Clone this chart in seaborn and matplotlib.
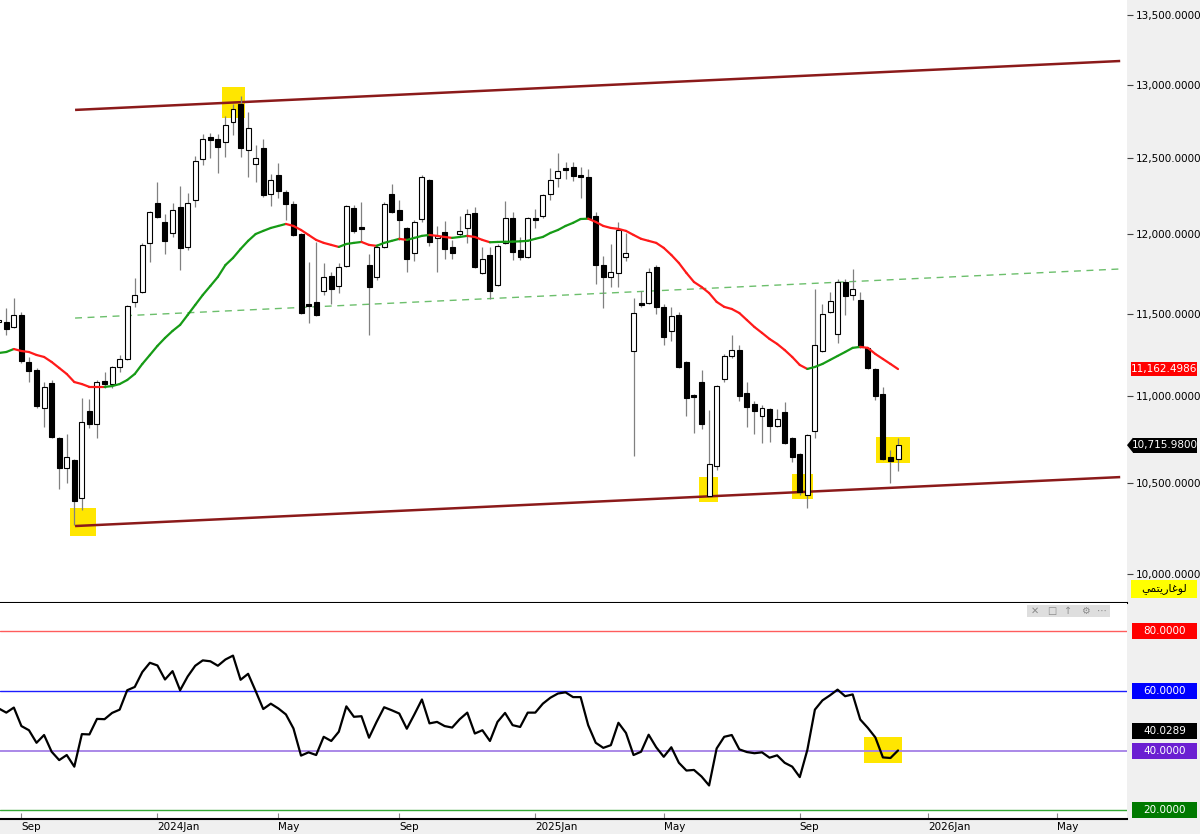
import numpy as np
import matplotlib
matplotlib.use("Agg")
import matplotlib.pyplot as plt
import seaborn as sns
from matplotlib.collections import LineCollection
from matplotlib.patches import Rectangle, Polygon
import matplotlib.ticker as mticker
import matplotlib.transforms as mtrans

# ---------------- data (weekly bars) ----------------
opens = [11448, 11448, 11417, 11491, 11205, 11157, 10932, 11079, 10756, 10585,
         10631, 10416, 10914, 10838, 11091, 11073, 11175, 11223, 11572, 11634,
         11944, 12202, 12079, 12008, 12176, 11918, 12222, 12494, 12642, 12629,
         12608, 12744, 12868, 12554, 12460, 12567, 12261, 12387, 12275, 12196,
         12001, 11559, 11572, 11640, 11734, 11671, 11797, 12170, 12047, 11803,
         11728, 11918, 12261, 12157, 12040, 11880, 12098, 12354, 11976, 12014,
         11918, 12001, 12040, 12137, 11753, 11867, 11678, 11944, 12105, 11899,
         11854, 12105, 12118, 12261, 12367, 12433, 12440, 12387, 12374, 12118,
         11803, 11728, 11753, 11854, 11271, 11566, 11566, 11791, 11541, 11393,
         11491, 11205, 11008, 11085, 10428, 10597, 11103, 11241, 11277, 11020,
         10955, 10885, 10926, 10826, 10908, 10756, 10665, 10433, 10797, 11271,
         11510, 11375, 11696, 11615, 11584, 11290, 11163, 11014, 10648, 10637]
highs = [11470, 11534, 11596, 11510, 11235, 11169, 11085, 11097, 10762, 10780,
         10637, 10990, 10984, 11097, 11145, 11181, 11247, 11553, 11722, 11944,
         12150, 12341, 12131, 12202, 12314, 12268, 12514, 12663, 12670, 12663,
         12786, 12868, 12923, 12813, 12588, 12629, 12394, 12467, 12288, 12215,
         12008, 11822, 11950, 11816, 11759, 11816, 12189, 12189, 12209, 11873,
         11937, 12209, 12327, 12222, 12047, 12092, 12387, 12361, 12053, 12085,
         11963, 12118, 12163, 12176, 11918, 11918, 11937, 12215, 12144, 11982,
         12111, 12163, 12261, 12433, 12534, 12474, 12474, 12440, 12427, 12144,
         11861, 11937, 12079, 12008, 11596, 11640, 11784, 11803, 11559, 11541,
         11510, 11211, 11014, 11157, 10920, 11067, 11253, 11368, 11308, 11085,
         10972, 10949, 10932, 10926, 10966, 10762, 10671, 10780, 11653, 11559,
         11634, 11715, 11715, 11778, 11634, 11296, 11169, 11056, 10688, 10756]
lows = [11440, 11368, 11411, 11199, 11085, 10932, 10820, 10756, 10467, 10500,
        10266, 10349, 10815, 10756, 11050, 11050, 11145, 11217, 11541, 11627,
        11822, 12105, 11873, 11982, 11772, 11899, 12176, 12453, 12500, 12400,
        12507, 12656, 12507, 12374, 12341, 12242, 12183, 12235, 12092, 11989,
        11497, 11442, 11485, 11615, 11559, 11627, 11791, 12008, 11950, 11368,
        11709, 11912, 12137, 11963, 11759, 11829, 12079, 11925, 11759, 11841,
        11841, 11989, 11944, 11784, 11746, 11590, 11671, 11937, 11835, 11835,
        11848, 12040, 12105, 12222, 12308, 12361, 12347, 12235, 12098, 11684,
        11535, 11665, 11665, 11829, 10654, 11541, 11559, 11497, 11308, 11332,
        11169, 10885, 10785, 10809, 10422, 10574, 11085, 11229, 10972, 10820,
        10780, 10728, 10734, 10820, 10722, 10620, 10433, 10360, 10756, 11265,
        11503, 11320, 11491, 11584, 11290, 11163, 10978, 10631, 10500, 10568]
closes = [11460, 11405, 11491, 11211, 11151, 10943, 11056, 10762, 10585, 10648,
          10399, 10849, 10838, 11085, 11073, 11175, 11223, 11547, 11615, 11931,
          12144, 12111, 11957, 12157, 11912, 12202, 12480, 12629, 12622, 12574,
          12724, 12834, 12567, 12703, 12500, 12255, 12354, 12281, 12196, 11995,
          11503, 11547, 11491, 11728, 11653, 11791, 12183, 12021, 12034, 11665,
          11918, 12196, 12144, 12092, 11841, 12079, 12374, 11950, 11989, 11905,
          11880, 12021, 12131, 11791, 11841, 11640, 11925, 12105, 11886, 11854,
          12105, 12092, 12255, 12354, 12413, 12420, 12380, 12374, 12105, 11803,
          11728, 11759, 12027, 11880, 11503, 11553, 11759, 11541, 11356, 11485,
          11175, 10990, 10996, 10838, 10608, 11061, 11241, 11277, 11002, 10937,
          10914, 10932, 10826, 10867, 10728, 10648, 10450, 10774, 11308, 11497,
          11578, 11696, 11609, 11653, 11296, 11169, 11002, 10637, 10625, 10715.98]
ma20 = [11259, 11265, 11283, 11271, 11265, 11247, 11235, 11205, 11169, 11133,
        11085, 11073, 11056, 11056, 11056, 11061, 11073, 11097, 11133, 11193,
        11247, 11302, 11350, 11393, 11430, 11491, 11553, 11615, 11671, 11728,
        11803, 11848, 11905, 11957, 12001, 12021, 12040, 12053, 12066, 12053,
        12027, 11995, 11963, 11944, 11931, 11918, 11937, 11944, 11950, 11931,
        11925, 11944, 11957, 11970, 11963, 11976, 11989, 11995, 11989, 11982,
        11976, 11982, 11989, 11982, 11963, 11948, 11950, 11951, 11952, 11954,
        11957, 11970, 11982, 12008, 12027, 12053, 12073, 12098, 12100, 12079,
        12053, 12040, 12034, 12021, 11995, 11970, 11957, 11944, 11912, 11867,
        11816, 11753, 11696, 11665, 11627, 11572, 11541, 11528, 11503, 11460,
        11417, 11381, 11344, 11314, 11277, 11235, 11187, 11163, 11175, 11193,
        11217, 11241, 11265, 11290, 11296, 11290, 11253, 11223, 11193, 11162.4986]
rsi = [54.1, 52.7, 54.4, 48.2, 46.8, 42.6, 45.2, 39.6, 36.8, 38.5,
       34.6, 45.5, 45.4, 50.6, 50.5, 52.6, 53.7, 60.2, 61.3, 66.3,
       69.4, 68.5, 63.8, 66.6, 60.2, 64.8, 68.4, 70.2, 69.9, 68.4,
       70.5, 71.8, 63.7, 65.7, 59.9, 53.9, 55.7, 54.1, 52.1, 47.4,
       38.3, 39.4, 38.5, 44.6, 43.2, 46.3, 54.8, 51.3, 51.5, 44.3,
       49.6, 54.5, 53.5, 52.4, 47.3, 52.1, 57.1, 49.1, 49.6, 48.2,
       47.7, 50.5, 52.7, 45.7, 46.8, 43.2, 49.6, 52.6, 48.5, 47.9,
       52.7, 52.7, 55.7, 57.7, 59.1, 59.5, 57.9, 57.9, 48.5, 42.6,
       40.9, 41.8, 49.3, 45.9, 38.5, 39.6, 45.3, 41.1, 37.9, 41.1,
       35.9, 33.3, 33.5, 31.3, 28.3, 40.7, 44.6, 45.2, 40.4, 39.5,
       39.1, 39.4, 37.6, 38.4, 35.9, 34.6, 31.1, 40.2, 53.7, 56.8,
       58.5, 60.4, 58.2, 58.8, 50.4, 47.6, 44.4, 37.7, 37.5, 40.0289]

price_ticks = [10000, 10500, 11000, 11500, 12000, 12500, 13000, 13500]
date_tick_bars = [3, 21, 37, 53, 71, 88, 106, 123, 140]
date_tick_labels = ["Sep", "2024Jan", "May", "Sep", "2025Jan", "May", "Sep", "2026Jan", "May"]

channel_x = [10.1, 148.4]
channel_top = [12827, 13168]
channel_bottom = [10261, 10534]
channel_mid = [11472, 11778]

rsi_levels = [80, 60, 40, 20]
rsi_level_line_colors = ["#ff5c5c", "#1c1cff", "#a47fe6", "#35a835"]
rsi_level_box_colors = ["#ff0000", "#0000ff", "#6b1fd2", "#007a00"]

last_close = 10715.98
last_ma = 11162.4986
last_rsi = 40.0289

# highlight boxes: (x0, x1, y0, y1) in bar / price units
highlight_boxes = [(29.5, 32.6, 12772, 12985),
                   (9.4, 12.9, 10206, 10360),
                   (92.7, 95.2, 10394, 10534),
                   (105.0, 107.7, 10411, 10551),
                   (116.1, 120.6, 10614, 10762)]
rsi_highlight = (114.5, 119.5, 35.9, 44.6)

assert len(opens) == len(highs) == len(lows) == len(closes) == len(ma20) == len(rsi) == 120

# ---------------- style ----------------
sns.set_theme(style="white")
plt.rcParams['font.family'] = ['DejaVu Sans']

W, H = 1200, 834
fig = plt.figure(figsize=(W / 100, H / 100), dpi=100, facecolor="#f0f0f0")
ax = fig.add_axes([0, 231 / H, 1127 / W, 603 / H])
axr = fig.add_axes([0, 15 / H, 1127 / W, 216 / H])
for a in (ax, axr):
    a.set_facecolor("white")

x = np.arange(len(opens))
o = np.array(opens, float)
h = np.array(highs, float)
l = np.array(lows, float)
c = np.array(closes, float)
up = c >= o

XMIN, XMAX = 0.167, 149.3

# ---------------- main (price) pane ----------------
ax.set_yscale("log")

for (x0, x1, y0, y1) in highlight_boxes:
    ax.add_patch(Rectangle((x0, y0), x1 - x0, y1 - y0, facecolor="#ffe600",
                           edgecolor="none", zorder=1))

ax.plot(channel_x, channel_top, color="#8b1a1a", lw=1.8, zorder=2, solid_capstyle="butt")
ax.plot(channel_x, channel_bottom, color="#8b1a1a", lw=1.8, zorder=2, solid_capstyle="butt")
ax.plot(channel_x, channel_mid, color="#6cbf6c", lw=1.0, ls=(0, (5, 4)), zorder=2)

ax.vlines(x, l, h, color="#808080", lw=0.9, zorder=3)
body_lo = np.minimum(o, c)
body_h = np.maximum(np.abs(c - o), 0.5)
ax.bar(x, body_h, bottom=body_lo, width=0.66,
       color=["white" if u else "black" for u in up],
       edgecolor="black", linewidth=0.8, zorder=4)

ma = np.array(ma20, float)
pts = np.column_stack([x, ma])
segs, cols = [], []
prev = "#169b16"
for k in range(1, len(ma)):
    if ma[k] > ma[k - 1]:
        prev = "#169b16"
    elif ma[k] < ma[k - 1]:
        prev = "#ff1a1a"
    segs.append(pts[k - 1:k + 1])
    cols.append(prev)
ax.add_collection(LineCollection(segs, colors=cols, linewidths=1.6, zorder=5,
                                 capstyle="round", joinstyle="round"))

ax.set_xlim(XMIN, XMAX)
ax.set_ylim(9846, 13606)
ax.yaxis.tick_right()
ax.yaxis.set_major_locator(mticker.FixedLocator(price_ticks))
ax.yaxis.set_minor_locator(mticker.NullLocator())
ax.yaxis.set_major_formatter(mticker.FuncFormatter(lambda v, p: f"{v:,.4f}"))
ax.tick_params(axis="y", which="major", direction="out", length=4, width=0.8,
               color="#444444", labelcolor="black", labelsize=7.5, pad=2,
               right=True, left=False, labelright=True, labelleft=False)
ax.set_xticks([])
for s in ("top", "left", "right"):
    ax.spines[s].set_visible(False)
ax.spines["bottom"].set_color("black")
ax.spines["bottom"].set_linewidth(1.5)
ax.set_ylabel("")

# ---------------- RSI pane ----------------
axr.add_patch(Rectangle((rsi_highlight[0], rsi_highlight[2]),
                        rsi_highlight[1] - rsi_highlight[0],
                        rsi_highlight[3] - rsi_highlight[2],
                        facecolor="#ffe600", edgecolor="none", zorder=1))
for lev, col in zip(rsi_levels, rsi_level_line_colors):
    axr.axhline(lev, color=col, lw=1.3 if lev == 40 else 1.0, zorder=2)
sns.lineplot(x=x, y=rsi, ax=axr, color="black", linewidth=1.6, zorder=4)
axr.set_xlim(XMIN, XMAX)
axr.set_ylim(17.07, 89.42)
axr.set_yticks([])
axr.set_xlabel("")
axr.set_ylabel("")
axr.set_xticks(date_tick_bars)
axr.set_xticklabels(date_tick_labels)
offset = mtrans.ScaledTranslation(1.5 / 72, 0, fig.dpi_scale_trans)
for lbl in axr.get_xticklabels():
    lbl.set_horizontalalignment("left")
    lbl.set_transform(lbl.get_transform() + offset)
axr.tick_params(axis="x", direction="in", length=4, width=0.8, color="#888888",
                labelsize=7.5, labelcolor="black", pad=2, bottom=True)
for s in ("top", "left", "right"):
    axr.spines[s].set_visible(False)
axr.spines["bottom"].set_color("black")
axr.spines["bottom"].set_linewidth(1.5)


# ---------------- right-side value labels ----------------
def disp_y(axis, val):
    return axis.transData.transform((XMIN, val))[1]


def value_label(ypx, text, fc, x0=1132, x1=1197, hh=15, tip=False, tc="white"):
    fig.add_artist(Rectangle((x0 / W, (ypx - hh / 2) / H), (x1 - x0) / W, hh / H,
                             transform=fig.transFigure, facecolor=fc,
                             edgecolor="none", zorder=10))
    if tip:
        fig.add_artist(Polygon([((x0 - 6) / W, ypx / H), (x0 / W, (ypx + hh / 2) / H),
                                (x0 / W, (ypx - hh / 2) / H)], closed=True,
                               transform=fig.transFigure, facecolor=fc,
                               edgecolor="none", zorder=10))
    fig.text((x0 + x1) / 2 / W, ypx / H, text, color=tc, ha="center", va="center",
             fontsize=7.5, zorder=11)


value_label(disp_y(ax, last_ma), f"{last_ma:,.4f}", "#ff0000", x0=1131, hh=14)
value_label(disp_y(ax, last_close), f"{last_close:,.4f}", "#000000", x0=1133, tip=True)

for lev, col in zip(rsi_levels, rsi_level_box_colors):
    value_label(disp_y(axr, lev), f"{lev:.4f}", col, hh=16)
value_label(disp_y(axr, 40) + 20, f"{last_rsi:.4f}", "#000000", hh=16)

# "logarithmic" badge (Arabic, shaped presentation forms in visual order)
fig.add_artist(Rectangle((1131 / W, 236 / H), 66 / W, 18 / H, transform=fig.transFigure,
                         facecolor="#ffff00", edgecolor="none", zorder=10))
log_badge = "\ufef2\ufee4\ufe98\ufef3\ufead\ufe8e\ufecf\ufeee\ufedf"
fig.text(1164 / W, 245 / H, log_badge, color="black", ha="center", va="center",
         fontsize=8, zorder=11, family=["DejaVu Sans"])

# small indicator toolbar in RSI pane
fig.add_artist(Rectangle((1027 / W, 217 / H), 83 / W, 12 / H, transform=fig.transFigure,
                         facecolor="#dedede", edgecolor="none", zorder=10))
for gx, g in zip([1035, 1052, 1068, 1085, 1102], ["\u2715", "\u25a1", "\u2191", "\u2699", "\u22ef"]):
    fig.text(gx / W, 223 / H, g, color="#8a8a8a", ha="center", va="center",
             fontsize=7, zorder=11, family=["DejaVu Sans"])

fig.savefig("out.png", dpi=100, facecolor=fig.get_facecolor())
